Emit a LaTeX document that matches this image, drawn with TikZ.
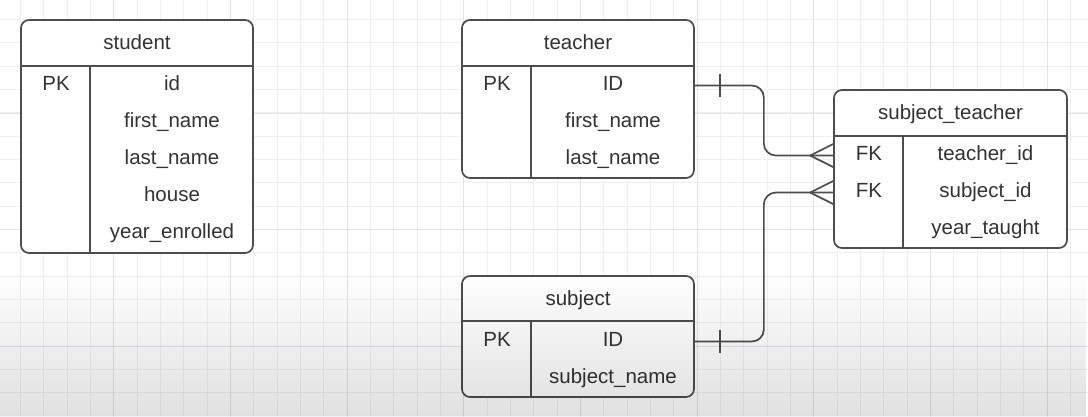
\documentclass[tikz,border=0pt]{standalone}
\usepackage{fontspec}
\setmainfont{Liberation Sans}
\usetikzlibrary{calc,fadings}

\definecolor{linegray}{HTML}{4D4D4D}
\definecolor{textgray}{HTML}{333333}
\definecolor{gridminor}{HTML}{F0F0F3}
\definecolor{gridmajor}{HTML}{E3E3E7}

\tikzset{
  tablebox/.style={draw=linegray, line width=1.7pt, rounded corners=8pt, fill=white, inner sep=0pt},
  rule/.style={draw=linegray, line width=1.7pt},
  field/.style={font=\fontsize{20.5}{24}\selectfont, text=textgray, anchor=base, inner sep=0pt,
                text height=15pt, text depth=5pt},
  link/.style={draw=linegray, line width=1.7pt, rounded corners=12pt},
}

% crow's foot (many) ending at a table edge
\newcommand{\crowfoot}[1]{%
  \draw[rule] ($#1+(-23,0)$) -- ($#1+(0,-11.5)$);
  \draw[rule] ($#1+(-23,0)$) -- ($#1+(0,11.5)$);
}

\begin{document}
\begin{tikzpicture}[x=1pt,y=-1pt]
\useasboundingbox (0,0) rectangle (1088,416);
\clip (0,0) rectangle (1088,416);

% Background grid
\fill[white] (0,0) rectangle (1088,416);
\draw[gridminor, line width=0.8pt, shift={(20.3,19.3)}, step=23.333pt] (-40,-40) grid (1100,420);
\draw[gridmajor, line width=0.8pt, shift={(113.7,112.9)}, step=116.667pt] (-140,-140) grid (1000,320);

% Table: student
\node[tablebox, minimum width=232pt, minimum height=233pt] (student) at (137,136.5) {};
\draw[rule] ($(student.north west)+(0,47)$) -- ($(student.north east)+(0,47)$);
\draw[rule] ($(student.north west)+(70,47)$) -- ($(student.south west)+(70,0)$);
\node[field] (stuTitle) at (137,49) {student};
\node[field] (stuPK) at (56,90.5) {PK};
\foreach \txt [count=\i] in {id,first\_name,last\_name,house,year\_enrolled}
  \node[field] (stu\i) at (172,53.5+37*\i) {\txt};

% Table: teacher
\node[tablebox, minimum width=232pt, minimum height=158pt] (teacher) at (578,99) {};
\draw[rule] ($(teacher.north west)+(0,47)$) -- ($(teacher.north east)+(0,47)$);
\draw[rule] ($(teacher.north west)+(70,47)$) -- ($(teacher.south west)+(70,0)$);
\node[field] (tchTitle) at (578,49) {teacher};
\node[field] (tchPK) at (497,90.5) {PK};
\foreach \txt [count=\i] in {ID,first\_name,last\_name}
  \node[field] (tch\i) at (613,53.5+37*\i) {\txt};

% Table: subject_teacher
\node[tablebox, minimum width=233pt, minimum height=158pt] (subjteach) at (950.5,169) {};
\draw[rule] ($(subjteach.north west)+(0,47)$) -- ($(subjteach.north east)+(0,47)$);
\draw[rule] ($(subjteach.north west)+(70,47)$) -- ($(subjteach.south west)+(70,0)$);
\node[field] (stTitle) at (950.5,119) {subject\_teacher};
\node[field] (stFK1) at (869,160.5) {FK};
\node[field] (stFK2) at (869,197.5) {FK};
\foreach \txt [count=\i] in {teacher\_id,subject\_id,year\_taught}
  \node[field] (st\i) at (985.5,123.5+37*\i) {\txt};

% Table: subject
\node[tablebox, minimum width=232pt, minimum height=121pt] (subject) at (578,336.5) {};
\draw[rule] ($(subject.north west)+(0,46)$) -- ($(subject.north east)+(0,46)$);
\draw[rule] ($(subject.north west)+(70,46)$) -- ($(subject.south west)+(70,0)$);
\node[field] (subTitle) at (578,305) {subject};
\node[field] (subPK) at (497,346.5) {PK};
\foreach \txt [count=\i] in {ID,subject\_name}
  \node[field] (sub\i) at (613,309.5+37*\i) {\txt};

% Relationships
\draw[link] (teacher.east |- tchPK.center) -- ++(69,0) |- (subjteach.west |- stFK1.center);
\draw[rule] ($(teacher.east |- tchPK.center)+(25,-11.5)$) -- ++(0,23);
\crowfoot{(subjteach.west |- stFK1.center)}

\draw[link] (subject.east |- subPK.center) -- ++(69,0) |- (subjteach.west |- stFK2.center);
\draw[rule] ($(subject.east |- subPK.center)+(25,-11.5)$) -- ++(0,23);
\crowfoot{(subjteach.west |- stFK2.center)}

% Bottom shading
\fill[black, fill opacity=0.12, path fading=north] (0,270) rectangle (1088,416);
\end{tikzpicture}
\end{document}
